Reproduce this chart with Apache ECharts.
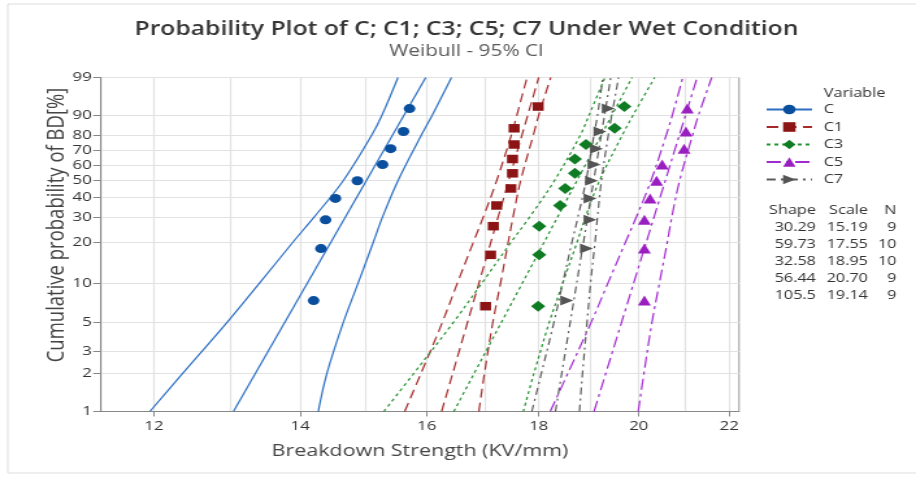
<!DOCTYPE html>
<html>
<head>
<meta charset="utf-8">
<script src="https://cdn.jsdelivr.net/npm/echarts@6/dist/echarts.min.js"></script>
<style>
  html, body { margin: 0; padding: 0; background: #fff; }
  #wrap { width: 916px; height: 477px; overflow: hidden; }
  /* the reference picture is stretched sideways: draw narrow, then widen */
  #chart { width: 705px; height: 477px; transform: scaleX(1.2993); transform-origin: 0 0; }
</style>
</head>
<body>
<div id="wrap"><div id="chart"></div></div>
<script>
// variables and fitted Weibull parameters (legend table)
const variables = ['C', 'C1', 'C3', 'C5', 'C7']
const shapes = ['30.29', '59.73', '32.58', '56.44', '105.5']
const scales = ['15.19', '17.55', '18.95', '20.70', '19.14']
const counts = [9, 10, 10, 9, 9]

// plotting positions (%) of the ordered observations
const pctN9 = [7.4, 18.1, 28.7, 39.4, 50.0, 60.6, 71.3, 81.9, 92.6]
const pctN10 = [6.7, 16.3, 26.0, 35.6, 45.2, 54.8, 64.4, 74.0, 83.7, 93.3]

// breakdown strength observations (KV/mm), sorted
const strengthC = [14.20, 14.31, 14.38, 14.53, 14.87, 15.27, 15.40, 15.61, 15.71]
const strengthC1 = [17.02, 17.11, 17.16, 17.22, 17.48, 17.51, 17.51, 17.54, 17.54, 17.99]
const strengthC3 = [17.99, 18.01, 18.01, 18.41, 18.51, 18.70, 18.70, 18.92, 19.50, 19.70]
const strengthC5 = [20.12, 20.12, 20.12, 20.24, 20.38, 20.50, 20.98, 21.02, 21.05]
const strengthC7 = [18.54, 18.93, 19.00, 19.00, 19.03, 19.08, 19.13, 19.20, 19.37]

// fitted line ends, at 1 % and at 99 %
const fitAt1 = [13.05, 16.25, 16.46, 19.08, 18.32]
const fitAt99 = [15.98, 18.00, 19.86, 21.27, 19.42]

// 95% confidence bands, read at these percent levels
const bandLevels = [1, 2, 5, 10, 20, 30, 50, 80, 90, 99]
const lowerC = [11.95, 12.37, 12.96, 13.41, 13.89, 14.21, 14.65, 15.10, 15.26, 15.52]
const upperC = [14.27, 14.40, 14.65, 14.88, 15.12, 15.27, 15.52, 15.91, 16.09, 16.42]
const lowerC1 = [15.63, 15.90, 16.26, 16.52, 16.80, 16.98, 17.22, 17.49, 17.59, 17.78]
const upperC1 = [16.90, 17.00, 17.15, 17.29, 17.43, 17.52, 17.66, 17.90, 18.00, 18.23]
const lowerC3 = [15.29, 15.78, 16.45, 16.95, 17.48, 17.83, 18.30, 18.81, 18.98, 19.30]
const upperC3 = [17.71, 17.91, 18.20, 18.46, 18.74, 18.91, 19.19, 19.66, 19.88, 20.34]
const lowerC5 = [18.22, 18.56, 19.02, 19.36, 19.72, 19.95, 20.26, 20.59, 20.72, 20.95]
const upperC5 = [19.99, 20.11, 20.28, 20.44, 20.61, 20.71, 20.88, 21.17, 21.30, 21.60]
const lowerC7 = [17.87, 18.05, 18.29, 18.46, 18.64, 18.76, 18.92, 19.08, 19.15, 19.26]
const upperC7 = [18.79, 18.85, 18.94, 19.01, 19.10, 19.15, 19.23, 19.37, 19.44, 19.58]

// axis ticks
const yTicks = [1, 2, 3, 5, 10, 20, 30, 40, 50, 60, 70, 80, 90, 99]
const xGrid = [12, 13, 14, 15, 16, 17, 18, 19, 20, 21, 22]
const xLabels = [12, 14, 16, 18, 20, 22]
const xMin = 11.35
const xMax = 22.23

const strengths = [strengthC, strengthC1, strengthC3, strengthC5, strengthC7]
const pcts = [pctN9, pctN10, pctN10, pctN9, pctN9]
const lowers = [lowerC, lowerC1, lowerC3, lowerC5, lowerC7]
const uppers = [upperC, upperC1, upperC3, upperC5, upperC7]

const symbols = ['circle', 'rect', 'diamond', 'triangle', 'triangle']
const symbolRotates = [0, 0, 0, 0, -90]
const symbolSizes = [9, 8.5, 11, 10, 10]
const markerColors = ['#0a4f9e', '#8c1414', '#0f7c24', '#9a1fc0', '#555555']
const lineColors = ['#2c6fc2', '#a52b2b', '#24932f', '#a22bd0', '#5c5c5c']
const dashes = ['solid', [9, 5], [3, 3], [11, 4, 3, 4], [7, 4, 2, 4]]

const FONT = '"Open Sans", "Noto Sans", sans-serif'

// Weibull probability scale
const wb = (p) => Math.log(-Math.log(1 - p / 100))
const wbInv = (v) => 100 * (1 - Math.exp(-Math.exp(v)))
const toPts = (xs, ps) => xs.map((x, k) => [Math.log(x), wb(ps[k])])

const series = []
variables.forEach((name, i) => {
  const lineStyle = { color: lineColors[i], width: 1.2, type: dashes[i] }
  // fitted line (also gives the legend icon)
  series.push({
    name,
    type: 'line',
    data: [[Math.log(fitAt1[i]), wb(1)], [Math.log(fitAt99[i]), wb(99)]],
    showSymbol: false,
    symbol: symbols[i],
    symbolRotate: symbolRotates[i],
    itemStyle: { color: markerColors[i] },
    lineStyle,
    silent: true,
    z: 2
  })
  // confidence bands
  ;[lowers[i], uppers[i]].forEach((band, b) => {
    series.push({
      name: name + (b ? ' upper' : ' lower'),
      type: 'line',
      data: toPts(band, bandLevels),
      smooth: 0.35,
      showSymbol: false,
      symbol: 'none',
      lineStyle,
      silent: true,
      z: 2
    })
  })
  // observations
  series.push({
    name: name + ' data',
    type: 'scatter',
    data: toPts(strengths[i], pcts[i]),
    symbol: symbols[i],
    symbolRotate: symbolRotates[i],
    symbolSize: symbolSizes[i],
    itemStyle: { color: markerColors[i], opacity: 1 },
    z: 3
  })
})

// frame, y axis title, legend heading and the parameter table
const graphic = [
  {
    type: 'rect',
    shape: { x: 6, y: 4, width: 720, height: 469 },
    style: { fill: 'none', stroke: '#dddddd', lineWidth: 1 },
    silent: true,
    z: -10
  },
  {
    type: 'text', x: 44, y: 225, rotation: Math.PI / 2,
    style: {
      text: 'Cumulative probability of BD[%]', font: '18.5px ' + FONT, fill: '#444',
      align: 'center', verticalAlign: 'middle'
    }
  },
  {
    type: 'text', x: 634, y: 93,
    style: { text: 'Variable', font: '12.5px ' + FONT, fill: '#333', verticalAlign: 'middle' }
  }
]
const colRight = [628, 668, 690]
const header = ['Shape', 'Scale', 'N']
header.forEach((t, c) => {
  graphic.push({
    type: 'text', x: colRight[c], y: 210,
    style: { text: t, font: '12.5px ' + FONT, fill: '#333', align: 'right', verticalAlign: 'middle' }
  })
})
variables.forEach((v, i) => {
  ;[shapes[i], scales[i], String(counts[i])].forEach((t, c) => {
    graphic.push({
      type: 'text', x: colRight[c], y: 227 + i * 17,
      style: { text: t, font: '12.5px ' + FONT, fill: '#333', align: 'right', verticalAlign: 'middle' }
    })
  })
})

const chart = echarts.init(document.getElementById('chart'))
chart.setOption({
  animation: false,
  textStyle: { fontFamily: FONT },
  title: {
    text: 'Probability Plot of C; C1; C3; C5; C7 Under Wet Condition',
    subtext: 'Weibull - 95% CI',
    left: 354,
    textAlign: 'center',
    top: 15,
    itemGap: 4,
    textStyle: { fontSize: 19, fontWeight: 600, color: '#353535', fontFamily: FONT },
    subtextStyle: { fontSize: 16, color: '#5a5a5a', fontFamily: FONT }
  },
  legend: {
    data: variables,
    orient: 'vertical',
    left: 584,
    top: 98,
    itemWidth: 35,
    itemHeight: 12,
    itemGap: 4.5,
    selectedMode: false,
    textStyle: { fontSize: 12.5, color: '#333', padding: [0, 0, 0, 4], fontFamily: FONT }
  },
  grid: {
    left: 77.7,
    right: 136.2,
    top: 77.5,
    bottom: 65.5,
    show: true,
    borderColor: '#999',
    borderWidth: 1
  },
  xAxis: [
    {
      type: 'value',
      min: Math.log(xMin),
      max: Math.log(xMax),
      name: 'Breakdown Strength (KV/mm)',
      nameLocation: 'middle',
      nameGap: 31,
      nameTextStyle: { fontSize: 16.5, color: '#444', fontFamily: FONT },
      axisLine: { show: true, onZero: false, lineStyle: { color: '#888' } },
      axisTick: { show: false, customValues: xGrid.map(Math.log) },
      axisLabel: {
        customValues: xLabels.map(Math.log),
        formatter: (v) => String(Math.round(Math.exp(v))),
        fontSize: 13,
        color: '#333',
        margin: 8
      },
      splitLine: { show: true, lineStyle: { color: '#e2e2e2', width: 1.2 } }
    },
    {
      type: 'value',
      position: 'bottom',
      min: Math.log(xMin),
      max: Math.log(xMax),
      axisLine: { show: false, onZero: false },
      axisTick: { show: true, length: 5, customValues: xLabels.map(Math.log), lineStyle: { color: '#888' } },
      axisLabel: { show: false },
      splitLine: { show: false }
    }
  ],
  yAxis: {
    type: 'value',
    min: wb(1),
    max: wb(99),
    axisLine: { show: true, onZero: false, lineStyle: { color: '#888' } },
    axisTick: { show: true, length: 6, customValues: yTicks.map(wb), lineStyle: { color: '#888' } },
    axisLabel: {
      customValues: yTicks.map(wb),
      formatter: (v) => String(Math.round(wbInv(v))),
      fontSize: 13,
      color: '#333',
      margin: 7
    },
    splitLine: { show: true, lineStyle: { color: '#e2e2e2', width: 1.2 } }
  },
  graphic,
  series
})
</script>
</body>
</html>
